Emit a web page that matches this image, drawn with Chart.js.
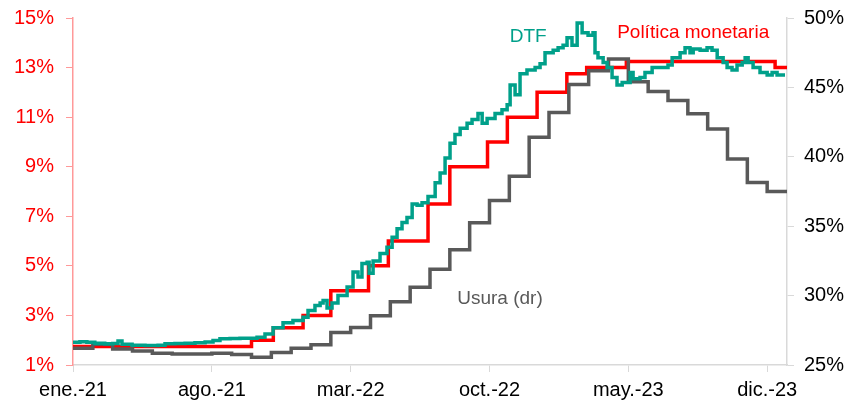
<!DOCTYPE html>
<html>
<head>
<meta charset="utf-8">
<script src="https://cdn.jsdelivr.net/npm/chart.js@4"></script>
<style>
  body { margin: 0; background: #fff; }
  canvas { display: block; }
</style>
</head>
<body>
<canvas id="grafico" width="850" height="404"></canvas>
<script>
// meses desde ene.-21 (0 = enero 2021)
const xTickMonths = [0, 7, 14, 21, 28, 35];
const xTickLabels = ['ene.-21', 'ago.-21', 'mar.-22', 'oct.-22', 'may.-23', 'dic.-23'];

// Tasa de política monetaria (%), escalonada
const policyMonths = [0, 9, 10.1, 11.6, 13, 14.9, 15.9, 17.9, 19, 20.9, 21.9, 23.4, 24.9, 25.9, 27.9, 35.4, 36];
const policyRates = [1.75, 2, 2.5, 3, 4, 5, 6, 7.5, 9, 10, 11, 12, 12.75, 13, 13.25, 13, 13];

// Tasa de usura (%), eje derecho, mensual
const usuraMonths = [0, 1, 2, 3, 4, 5, 6, 7, 8, 9, 10, 11, 12, 13, 14, 15, 16, 17, 18, 19, 20, 21, 22, 23, 24, 25, 26, 27, 28, 29, 30, 31, 32, 33, 34, 35, 36];
const usuraRates = [26.2, 26.5, 26.15, 26.0, 25.85, 25.8, 25.8, 25.85, 25.75, 25.55, 25.9, 26.2, 26.45, 27.35, 27.7, 28.55, 29.55, 30.6, 31.9, 33.3, 35.25, 36.85, 38.6, 41.4, 43.2, 45.2, 46.2, 47.05, 45.4, 44.7, 44.05, 43.1, 42.0, 39.85, 38.15, 37.5, 37.5];

// DTF (%), semanal aprox.
const dtfMonths = [0, 0.35, 0.7, 1.1, 1.6, 2.0, 2.27, 2.47, 2.98, 3.63, 4.29, 4.64, 5.14, 5.65, 6.15, 6.66, 7.06, 7.41, 7.92, 8.42, 8.93, 9.28, 9.68, 10.09, 10.59, 11.09, 11.6, 11.85, 12.2, 12.46, 12.61, 12.81, 13.06, 13.36, 13.82, 14.12, 14.37, 14.57, 14.83, 14.93, 15.13, 15.48, 15.83, 16.09, 16.34, 16.59, 16.84, 17.1, 17.35, 17.6, 17.9, 18.26, 18.51, 18.76, 19.01, 19.26, 19.52, 19.87, 20.12, 20.42, 20.63, 20.88, 21.28, 21.63, 21.89, 22.04, 22.29, 22.54, 22.89, 23.3, 23.55, 23.8, 24.21, 24.46, 24.71, 24.91, 25.16, 25.42, 25.67, 25.97, 26.22, 26.32, 26.47, 26.73, 26.93, 27.18, 27.43, 27.69, 27.94, 28.09, 28.24, 28.59, 28.84, 29.2, 29.6, 30.0, 30.21, 30.61, 30.86, 31.11, 31.27, 31.62, 31.97, 32.22, 32.48, 32.78, 32.98, 33.23, 33.48, 33.74, 33.89, 34.04, 34.29, 34.64, 35.0, 35.25, 35.5, 35.9];
const dtfRates = [1.92, 1.94, 1.92, 1.88, 1.86, 1.87, 1.97, 1.84, 1.8, 1.79, 1.8, 1.86, 1.87, 1.88, 1.9, 1.93, 1.99, 2.06, 2.07, 2.08, 2.08, 2.12, 2.25, 2.5, 2.7, 2.8, 2.93, 3.2, 3.4, 3.5, 3.6, 3.3, 3.5, 3.8, 4.15, 4.75, 4.55, 5.1, 5.15, 4.7, 5.2, 5.5, 5.75, 6.15, 6.5, 6.75, 6.95, 7.5, 7.45, 7.55, 7.8, 8.35, 8.75, 9.35, 9.95, 10.3, 10.55, 10.75, 10.9, 11.15, 10.75, 10.95, 11.15, 11.3, 11.5, 12.3, 11.9, 12.75, 12.9, 13.0, 13.15, 13.6, 13.7, 13.8, 13.9, 14.2, 13.9, 14.8, 14.4, 14.3, 14.4, 13.6, 13.4, 13.2, 13.0, 12.6, 12.3, 12.4, 12.4, 12.8, 12.55, 12.6, 12.8, 13.0, 13.0, 13.1, 13.4, 13.6, 13.8, 13.6, 13.75, 13.7, 13.8, 13.7, 13.4, 13.2, 13.0, 12.9, 13.1, 13.2, 13.4, 13.2, 13.0, 12.8, 12.7, 12.8, 12.7, 12.7];

const ROJO = '#FF0000';
const VERDE = '#00A08A';
const GRIS = '#595959';

function puntos(xs, ys) {
  return xs.map((x, i) => ({ x: x, y: ys[i] }));
}

// etiquetas de las series dentro del gráfico
const etiquetas = [
  { texto: 'DTF', mes: 22.95, valor: 14.23, color: VERDE },
  { texto: 'Política monetaria', mes: 31.27, valor: 14.39, color: ROJO },
  { texto: 'Usura (dr)', mes: 21.53, valor: 3.66, color: GRIS }
];

const pluginEtiquetas = {
  id: 'etiquetas',
  afterDatasetsDraw(chart) {
    const ctx = chart.ctx;
    const x = chart.scales.x;
    const y = chart.scales.y;
    ctx.save();
    ctx.font = '19px "Liberation Sans", Arial, sans-serif';
    ctx.textAlign = 'center';
    ctx.textBaseline = 'middle';
    etiquetas.forEach(e => {
      ctx.fillStyle = e.color;
      ctx.fillText(e.texto, x.getPixelForValue(e.mes), y.getPixelForValue(e.valor));
    });
    ctx.restore();
  }
};

const fuente = { family: '"Liberation Sans", Arial, sans-serif', size: 20 };

// ancho fijo de los ejes verticales, sin relleno extra arriba/abajo
function ajustarEje(ancho) {
  return (scale) => {
    scale.width = ancho;
    scale.paddingTop = 0;
    scale.paddingBottom = 0;
  };
}

new Chart(document.getElementById('grafico'), {
  type: 'line',
  data: {
    datasets: [
      {
        label: 'DTF',
        data: puntos(dtfMonths, dtfRates),
        borderColor: VERDE,
        borderWidth: 3.5,
        stepped: true,
        pointRadius: 0,
        yAxisID: 'y'
      },
      {
        label: 'Usura (dr)',
        data: puntos(usuraMonths, usuraRates),
        borderColor: GRIS,
        borderWidth: 3.5,
        stepped: true,
        pointRadius: 0,
        yAxisID: 'y2'
      },
      {
        label: 'Política monetaria',
        data: puntos(policyMonths, policyRates),
        borderColor: ROJO,
        borderWidth: 3.5,
        stepped: true,
        pointRadius: 0,
        yAxisID: 'y'
      }
    ]
  },
  options: {
    responsive: false,
    animation: false,
    layout: { padding: { top: 18, right: 0, left: 0, bottom: 0 } },
    plugins: {
      legend: { display: false },
      tooltip: { enabled: false }
    },
    scales: {
      x: {
        type: 'linear',
        min: 0,
        max: 36,
        afterBuildTicks: (scale) => {
          scale.ticks = xTickMonths.map(v => ({ value: v }));
        },
        afterFit: (scale) => { scale.height = 39; },
        ticks: {
          autoSkip: false,
          maxRotation: 0,
          padding: 6,
          color: '#000',
          font: fuente,
          callback: (v) => xTickLabels[xTickMonths.indexOf(v)]
        },
        grid: { drawOnChartArea: false, tickLength: 7, color: '#D9D9D9' },
        border: { color: '#D9D9D9', width: 1.5 }
      },
      y: {
        position: 'left',
        min: 1,
        max: 15,
        afterFit: ajustarEje(73),
        ticks: {
          stepSize: 2,
          padding: 12,
          color: ROJO,
          font: fuente,
          callback: (v) => v + '%'
        },
        grid: { drawOnChartArea: false, tickLength: 7, color: '#FF9999' },
        border: { color: '#FF9999', width: 1.5 }
      },
      y2: {
        position: 'right',
        min: 25,
        max: 50,
        afterFit: ajustarEje(63),
        ticks: {
          stepSize: 5,
          padding: 10,
          color: '#000',
          font: fuente,
          callback: (v) => v + '%'
        },
        grid: { drawOnChartArea: false, tickLength: 7, color: '#D9D9D9' },
        border: { color: '#D9D9D9', width: 1.5 }
      }
    }
  },
  plugins: [pluginEtiquetas]
});
</script>
</body>
</html>
